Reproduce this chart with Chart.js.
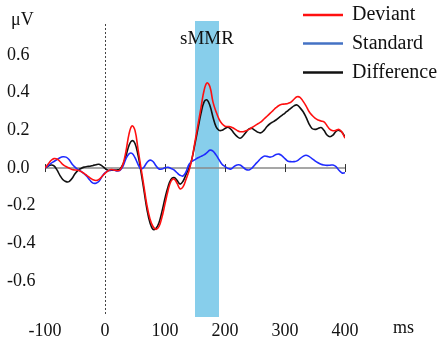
<!DOCTYPE html>
<html>
<head>
<meta charset="utf-8">
<script src="https://cdn.jsdelivr.net/npm/chart.js@4"></script>
<style>
  body { margin: 0; background: #fff; }
  canvas { display: block; }
</style>
</head>
<body>
<canvas id="erpChart" width="440" height="345"></canvas>
<script>
// time points (ms)
const times = [
  -100, -95, -90, -85, -80, -75, -70, -65, -60, -55, -50, -45, -40, -35, -30, -25, -20, -15, -10, -5,
  0, 5, 10, 15, 20, 25, 30, 35, 40, 45, 50, 55, 60, 65, 70, 75, 80, 85, 90, 95,
  100, 105, 110, 115, 120, 125, 130, 135, 140, 145, 150, 155, 160, 165, 170, 175, 180, 185, 190, 195,
  200, 205, 210, 215, 220, 225, 230, 235, 240, 245, 250, 255, 260, 265, 270, 275, 280, 285, 290, 295,
  300, 305, 310, 315, 320, 325, 330, 335, 340, 345, 350, 355, 360, 365, 370, 375, 380, 385, 390, 395,
  400
];

// amplitudes (µV)
const deviant = [
  0, 0.02, 0.04, 0.05, 0.048, 0.035, 0.018, 0.008, 0.0, -0.008, -0.01, -0.012, -0.018, -0.028, -0.04, -0.052, -0.062, -0.066, -0.06, -0.045,
  -0.028, -0.015, -0.008, -0.01, -0.014, -0.01, 0.02, 0.09, 0.18, 0.224, 0.2, 0.1, 0.0, -0.1, -0.2, -0.27, -0.31, -0.325, -0.31, -0.26,
  -0.19, -0.12, -0.07, -0.058, -0.08, -0.11, -0.1, -0.06, -0.015, 0.05, 0.14, 0.23, 0.32, 0.41, 0.452, 0.43, 0.35, 0.3, 0.26, 0.235,
  0.222, 0.22, 0.218, 0.21, 0.2, 0.193, 0.193, 0.198, 0.205, 0.215, 0.225, 0.235, 0.245, 0.26, 0.275, 0.29, 0.305, 0.32, 0.332, 0.338,
  0.34, 0.343, 0.35, 0.365, 0.378, 0.375, 0.355, 0.33, 0.3, 0.28, 0.265, 0.255, 0.25, 0.245, 0.225, 0.205, 0.198, 0.2, 0.205, 0.19,
  0.158
];

const standard = [
  0, 0.012, 0.025, 0.035, 0.045, 0.055, 0.06, 0.058, 0.045, 0.022, 0.005, -0.008, -0.018, -0.03, -0.045, -0.065, -0.08, -0.08, -0.07, -0.045,
  -0.025, -0.015, -0.01, -0.01, -0.015, -0.012, 0.01, 0.05, 0.075, 0.078, 0.055, 0.02, -0.005, 0.005, 0.03, 0.042, 0.035, 0.012, -0.005, -0.005,
  0.002, 0.004, -0.002, -0.01, -0.025, -0.038, -0.042, -0.02, 0.02, 0.035, 0.045, 0.055, 0.062, 0.07, 0.082, 0.095, 0.09, 0.07, 0.045, 0.02,
  0.008, -0.002, -0.005, 0.008, 0.016, 0.016, 0.005, -0.008, -0.01, 0.0, 0.018, 0.035, 0.052, 0.063, 0.062, 0.058, 0.062, 0.072, 0.074, 0.065,
  0.05, 0.036, 0.034, 0.034, 0.038, 0.05, 0.062, 0.068, 0.062, 0.05, 0.038, 0.028, 0.02, 0.016, 0.014, 0.015, 0.016, 0.008, -0.012, -0.026,
  -0.025
];

const difference = [
  0, 0.01, 0.016, 0.012, -0.01, -0.04, -0.062, -0.072, -0.072, -0.055, -0.03, -0.012, -0.002, 0.005, 0.008, 0.01, 0.014, 0.018, 0.02, 0.012,
  -0.002, -0.012, -0.012, -0.01, -0.01, -0.005, 0.02, 0.065, 0.12, 0.145, 0.13, 0.07, -0.02, -0.12, -0.22, -0.29, -0.325, -0.32, -0.29, -0.23,
  -0.16, -0.1, -0.06, -0.05, -0.065, -0.085, -0.07, -0.035, 0.0, 0.05, 0.13, 0.21, 0.29, 0.35, 0.362, 0.33, 0.27, 0.22, 0.2, 0.2,
  0.21, 0.216, 0.205, 0.185, 0.168, 0.158, 0.17, 0.19, 0.208, 0.21, 0.2, 0.19, 0.187, 0.2, 0.22, 0.235, 0.245, 0.255, 0.268, 0.28,
  0.292, 0.305, 0.318, 0.33, 0.335, 0.32, 0.3, 0.27, 0.235, 0.21, 0.205, 0.21, 0.215, 0.2, 0.175, 0.166, 0.175, 0.195, 0.2, 0.19,
  0.166
];

const seriesLabels = ['Deviant', 'Standard', 'Difference'];
const lineColors = ['#ff1010', '#1f2bff', '#111111'];
const legendColors = ['#ff1010', '#4472c4', '#111111'];

const xTicks = [-100, 0, 100, 200, 300, 400];
const yTicks = [-0.6, -0.4, -0.2, 0.0, 0.2, 0.4, 0.6];
const smmrWindow = [150, 190];   // ms
const serif = "'Liberation Serif', 'Times New Roman', serif";

const toPoints = vals => vals.map((v, i) => ({ x: times[i], y: v }));

const overlay = {
  id: 'overlay',
  beforeDatasetsDraw(chart) {
    const { ctx, chartArea: a, scales: { x, y } } = chart;
    ctx.save();

    // sMMR window
    const wx0 = x.getPixelForValue(smmrWindow[0]);
    const wx1 = x.getPixelForValue(smmrWindow[1]);
    ctx.fillStyle = '#87ceeb';
    ctx.fillRect(wx0, a.top, wx1 - wx0, a.bottom - a.top);

    // zero line with ticks
    const y0 = y.getPixelForValue(0);
    ctx.strokeStyle = '#8a8a8a';
    ctx.lineWidth = 1.5;
    ctx.beginPath();
    ctx.moveTo(a.left, y0);
    ctx.lineTo(a.right, y0);
    ctx.stroke();
    ctx.strokeStyle = '#333';
    ctx.lineWidth = 1;
    xTicks.forEach(t => {
      if (t === 0) return;
      const px = Math.round(x.getPixelForValue(t)) + 0.5;
      ctx.beginPath();
      ctx.moveTo(px, y0 - 4);
      ctx.lineTo(px, y0 + 4);
      ctx.stroke();
    });

    // stimulus onset
    const px0 = Math.round(x.getPixelForValue(0)) + 0.5;
    ctx.strokeStyle = '#444';
    ctx.setLineDash([2, 2]);
    ctx.beginPath();
    ctx.moveTo(px0, a.top + 3);
    ctx.lineTo(px0, a.bottom - 2);
    ctx.stroke();
    ctx.restore();
  },
  afterDraw(chart) {
    const { ctx, scales: { x } } = chart;
    ctx.save();
    ctx.fillStyle = '#111';
    ctx.textBaseline = 'middle';

    ctx.font = '19px ' + serif;
    ctx.textAlign = 'center';
    ctx.fillText('sMMR', (x.getPixelForValue(smmrWindow[0]) + x.getPixelForValue(smmrWindow[1])) / 2, 39);

    ctx.font = '18px ' + serif;
    ctx.textAlign = 'left';
    ctx.fillText('\u03bcV', 11, 20);
    ctx.fillText('ms', 393, 328);

    // legend
    ctx.font = '20px ' + serif;
    const rows = [15, 43.5, 72.5];
    seriesLabels.forEach((lab, i) => {
      ctx.strokeStyle = legendColors[i];
      ctx.lineWidth = 2.5;
      ctx.beginPath();
      ctx.moveTo(303, rows[i]);
      ctx.lineTo(343, rows[i]);
      ctx.stroke();
      ctx.fillText(lab, 352, rows[i]);
    });
    ctx.restore();
  }
};

new Chart(document.getElementById('erpChart'), {
  type: 'line',
  data: {
    datasets: [
      { label: seriesLabels[0], data: toPoints(deviant), borderColor: lineColors[0] },
      { label: seriesLabels[1], data: toPoints(standard), borderColor: lineColors[1] },
      { label: seriesLabels[2], data: toPoints(difference), borderColor: lineColors[2] }
    ]
  },
  options: {
    responsive: false,
    animation: false,
    layout: { padding: { left: 7, top: 21, right: 95, bottom: 0 } },
    elements: {
      line: { borderWidth: 1.6, tension: 0.4, fill: false },
      point: { radius: 0 }
    },
    plugins: {
      legend: { display: false },
      tooltip: { enabled: false }
    },
    scales: {
      x: {
        type: 'linear',
        min: -100,
        max: 400,
        afterBuildTicks: s => { s.ticks = xTicks.map(v => ({ value: v })); },
        afterFit: s => { s.height = 28; },
        grid: { display: false, drawTicks: false },
        border: { display: false },
        ticks: {
          autoSkip: false,
          maxRotation: 0,
          padding: 3,
          color: '#111',
          font: { family: serif, size: 18 }
        }
      },
      y: {
        min: -0.79,
        max: 0.78,
        afterBuildTicks: s => { s.ticks = yTicks.map(v => ({ value: v })); },
        afterFit: s => { s.width = 38; },
        grid: { display: false, drawTicks: false },
        border: { display: false },
        ticks: {
          crossAlign: 'far',
          color: '#111',
          font: { family: serif, size: 18 },
          callback: v => v.toFixed(1)
        }
      }
    }
  },
  plugins: [overlay]
});
</script>
</body>
</html>
